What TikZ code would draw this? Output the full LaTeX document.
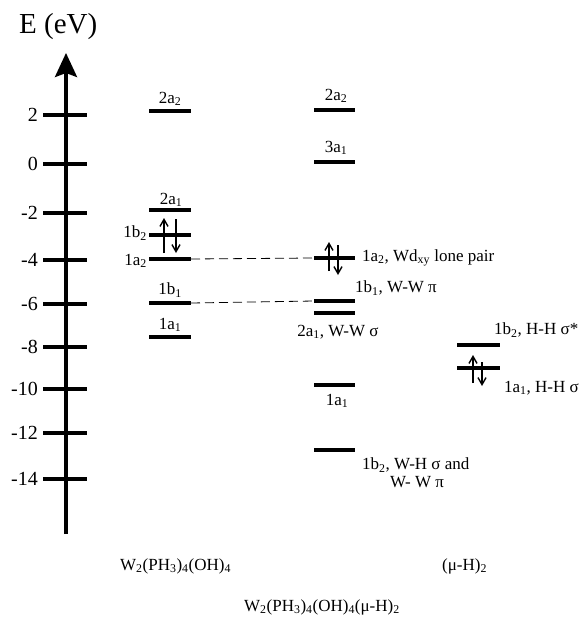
\documentclass[tikz,border=0pt]{standalone}
\usepackage{fontspec}
\setmainfont{Liberation Serif}
\usetikzlibrary{arrows.meta}
\begin{document}
\begin{tikzpicture}[x=1pt,y=-1pt,
  lvl/.style={line width=3.4pt},
  tck/.style={line width=3.4pt},
  dsh/.style={line width=0.8pt,dash pattern=on 9pt off 5pt},
  elec/.style={line width=1.4pt,-{Straight Barb[length=7pt,width=8pt,line width=1.4pt]}},
  lab/.style={font=\fontsize{17}{19}\selectfont,inner sep=0pt},
  ticklab/.style={font=\fontsize{20}{22}\selectfont,inner sep=0pt,anchor=east},
  big/.style={font=\fontsize{17}{20}\selectfont,inner sep=0pt}]
\useasboundingbox (0,0) rectangle (586,619);
% axis
\coordinate (ab) at (66,534);
\coordinate (at) at (66,53);
\draw[line width=3.4pt,-{Stealth[length=24pt,width=22pt,inset=4pt]}] (ab) -- (at);
\node[inner sep=0pt,anchor=west,font=\fontsize{29}{32}\selectfont] (E) at (19,27) {E (eV)};
% ticks
\foreach \v/\y in {2/115,0/164,-2/213,-4/260,-6/304,-8/347,-10/389,-12/433,-14/479}{
  \draw[tck] (43,\y) -- (87,\y);
  \node[ticklab] (t\v) at (38,\y) {\v};
}
% left column
\foreach \n/\y in {la2/111,lb1a/210,lb2/235,la2b/259,lb1/303,la1/337}{
  \coordinate (\n L) at (149,\y); \coordinate (\n R) at (191,\y);
  \draw[lvl] (\n L) -- (\n R);
}
\node[lab] (l2a2) at (170,99) {2a\textsubscript{2}};
\node[lab] (l2a1) at (171,200) {2a\textsubscript{1}};
\node[lab,anchor=east] (l1b2) at (147,233) {1b\textsubscript{2}};
\node[lab,anchor=east] (l1a2) at (147,261) {1a\textsubscript{2}};
\node[lab] (l1b1) at (170,290) {1b\textsubscript{1}};
\node[lab] (l1a1) at (170,325) {1a\textsubscript{1}};
\coordinate (e1a) at (164,253); \coordinate (e1b) at (164,218);
\coordinate (e2a) at (176,219); \coordinate (e2b) at (176,253);
\draw[elec] (e1a) -- (e1b);
\draw[elec] (e2a) -- (e2b);
% middle column
\foreach \n/\y in {ma2/110,ma1c/162,ma2b/258,mb1/301,ma1b/313,ma1/385,mb2/450}{
  \coordinate (\n L) at (314,\y); \coordinate (\n R) at (355,\y);
  \draw[lvl] (\n L) -- (\n R);
}
\node[lab] (m2a2) at (336,96) {2a\textsubscript{2}};
\node[lab] (m3a1) at (336,148) {3a\textsubscript{1}};
\node[lab,anchor=west] (m1a2) at (362,258) {1a\textsubscript{2}, Wd\textsubscript{xy} lone pair};
\node[lab,anchor=west] (m1b1) at (355,288) {1b\textsubscript{1}, W-W π};
\node[lab] (m2a1) at (338,332) {2a\textsubscript{1}, W-W σ};
\node[lab] (m1a1) at (337,401) {1a\textsubscript{1}};
\node[lab,anchor=west] (m1b2) at (362,465) {1b\textsubscript{2}, W-H σ and};
\node[lab] (m1b2b) at (417,482) {W- W π};
\coordinate (f1a) at (329,271); \coordinate (f1b) at (329,242);
\coordinate (f2a) at (338,245); \coordinate (f2b) at (338,275);
\draw[elec] (f1a) -- (f1b);
\draw[elec] (f2a) -- (f2b);
% dashed correlations
\draw[dsh] (la2bR) -- (ma2bL);
\draw[dsh] (lb1R) -- (mb1L);
% right column
\foreach \n/\y in {rb2/345,ra1/368}{
  \coordinate (\n L) at (457,\y); \coordinate (\n R) at (500,\y);
  \draw[lvl] (\n L) -- (\n R);
}
\node[lab,anchor=west] (r1b2) at (494,330) {1b\textsubscript{2}, H-H σ*};
\node[lab,anchor=west] (r1a1) at (504,388) {1a\textsubscript{1}, H-H σ};
\coordinate (g1a) at (473,383); \coordinate (g1b) at (473,355);
\coordinate (g2a) at (482,362); \coordinate (g2b) at (482,386);
\draw[elec] (g1a) -- (g1b);
\draw[elec] (g2a) -- (g2b);
% bottom labels
\node[big,anchor=west] (c1) at (120,566) {W\textsubscript{2}(PH\textsubscript{3})\textsubscript{4}(OH)\textsubscript{4}};
\node[big,anchor=west] (c2) at (442,566) {(μ-H)\textsubscript{2}};
\node[big,anchor=west] (c3) at (244,607) {W\textsubscript{2}(PH\textsubscript{3})\textsubscript{4}(OH)\textsubscript{4}(μ-H)\textsubscript{2}};
\end{tikzpicture}
\end{document}
